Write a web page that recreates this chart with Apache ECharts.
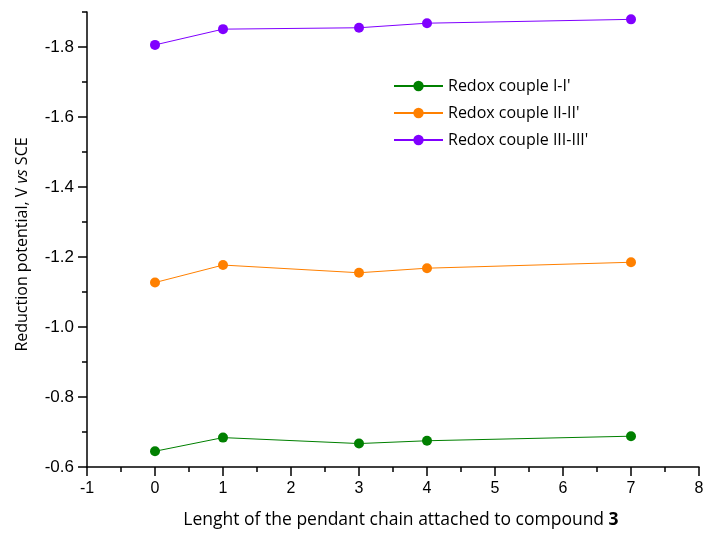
<!DOCTYPE html>
<html>
<head>
<meta charset="utf-8">
<script src="https://cdn.jsdelivr.net/npm/echarts@6/dist/echarts.min.js"></script>
<style>html,body{margin:0;padding:0;background:#fff}#c{width:704px;height:533px}</style>
</head>
<body>
<div id="c"></div>
<script>
const chainLength = [0, 1, 3, 4, 7];
const coupleI = [-0.645, -0.684, -0.667, -0.675, -0.688];
const coupleII = [-1.127, -1.177, -1.155, -1.168, -1.185];
const coupleIII = [-1.806, -1.851, -1.855, -1.868, -1.879];
const seriesNames = ["Redox couple I-I'", "Redox couple II-II'", "Redox couple III-III'"];
const yMajorTicks = [-0.6, -0.8, -1.0, -1.2, -1.4, -1.6, -1.8];
const yMinorTicks = [-0.7, -0.9, -1.1, -1.3, -1.5, -1.7, -1.9];

const colors = ['#008000', '#ff8000', '#8000ff'];
const pairs = arr => chainLength.map((x, i) => [x, arr[i]]);
const allSeries = [coupleI, coupleII, coupleIII];
const tickStyle = { color: '#000', width: 1.5 };

const chart = echarts.init(document.getElementById('c'));
chart.setOption({
  animation: false,
  backgroundColor: '#fff',
  grid: { left: 87, right: 5, top: 12, bottom: 66, containLabel: false, outerBoundsMode: 'none' },
  legend: {
    orient: 'vertical',
    left: 393,
    top: 78,
    padding: 0,
    itemWidth: 49,
    itemHeight: 13,
    itemGap: 11,
    textStyle: { fontFamily: 'Open Sans', fontSize: 16, color: '#000' },
    data: seriesNames
  },
  xAxis: {
    type: 'value',
    min: -1, max: 8, interval: 1,
    name: 'Lenght of the pendant chain attached to compound {b|3}',
    nameLocation: 'middle',
    nameGap: 44,
    nameTextStyle: {
      fontFamily: 'Open Sans', fontSize: 17.5, color: '#000', padding: [0, 0, 0, 16],
      rich: { b: { fontFamily: 'Open Sans', fontSize: 17.5, fontWeight: 'bold', color: '#000' } }
    },
    axisLine: { show: true, onZero: false, lineStyle: tickStyle },
    axisTick: { show: true, length: 9, lineStyle: tickStyle },
    minorTick: { show: true, splitNumber: 2, length: 5, lineStyle: tickStyle },
    axisLabel: { margin: 14, fontFamily: 'Liberation Sans', fontSize: 16, color: '#000' },
    splitLine: { show: false }
  },
  yAxis: [{
    type: 'value',
    min: -1.9, max: -0.6, inverse: true,
    name: 'Reduction potential, V {i|vs} SCE',
    nameLocation: 'middle',
    nameGap: 57,
    nameTextStyle: {
      fontFamily: 'Open Sans', fontSize: 16, color: '#000', padding: [0, 10, 0, 0],
      rich: { i: { fontFamily: 'Open Sans', fontSize: 16, fontStyle: 'italic', color: '#000' } }
    },
    axisLine: { show: true, onZero: false, lineStyle: tickStyle },
    axisTick: { show: true, length: 5, customValues: yMinorTicks, lineStyle: tickStyle },
    axisLabel: {
      customValues: yMajorTicks, margin: 13,
      fontFamily: 'Liberation Sans', fontSize: 17, color: '#000',
      formatter: v => v.toFixed(1)
    },
    splitLine: { show: false }
  }, {
    type: 'value',
    min: -1.9, max: -0.6, inverse: true,
    position: 'left', offset: 0,
    axisLine: { show: false, onZero: false },
    axisTick: { show: true, length: 9, customValues: yMajorTicks, lineStyle: tickStyle },
    axisLabel: { show: false },
    splitLine: { show: false }
  }],
  series: allSeries.map((arr, i) => ({
    name: seriesNames[i],
    type: 'line',
    yAxisIndex: 0,
    data: pairs(arr),
    symbol: 'circle',
    symbolSize: 10,
    color: colors[i],
    lineStyle: { width: 1, color: colors[i] },
    itemStyle: { color: colors[i] }
  }))
});
</script>
</body>
</html>
